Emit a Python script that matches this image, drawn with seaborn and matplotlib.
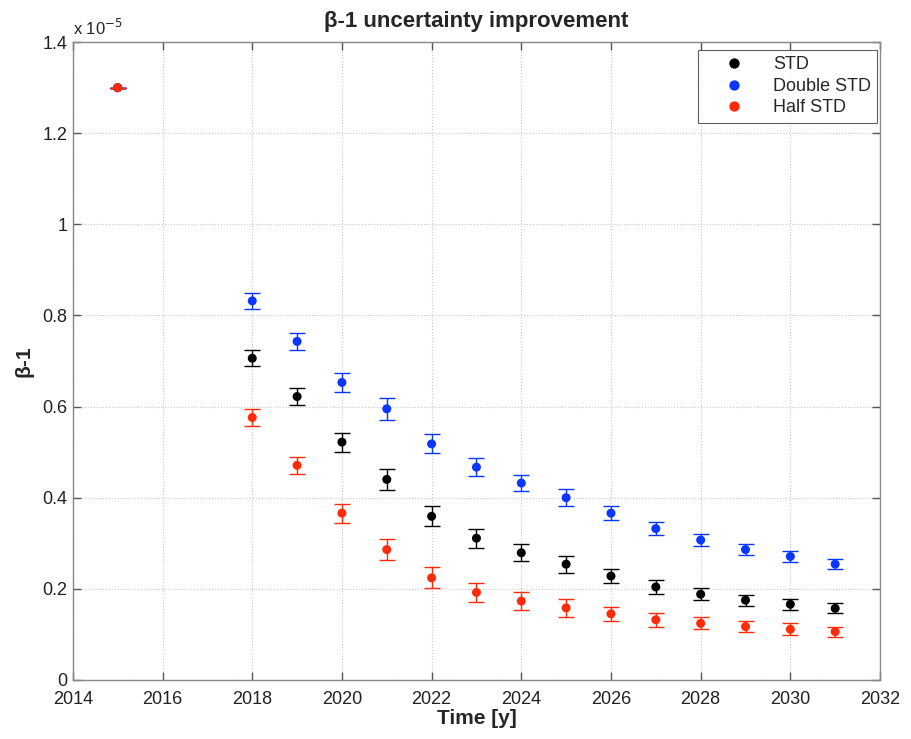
import numpy as np
import pandas as pd
import matplotlib
matplotlib.use("Agg")
import matplotlib.pyplot as plt
import seaborn as sns
from matplotlib.ticker import FuncFormatter

# Values in units of 1e-5
years = [2015, 2018, 2019, 2020, 2021, 2022, 2023, 2024, 2025, 2026, 2027, 2028, 2029, 2030, 2031]

std_vals = [1.30, 0.706, 0.622, 0.522, 0.440, 0.359, 0.311, 0.279, 0.254, 0.228, 0.204, 0.188, 0.175, 0.166, 0.157]
std_err = [0.0, 0.018, 0.018, 0.021, 0.023, 0.022, 0.021, 0.019, 0.019, 0.015, 0.015, 0.013, 0.012, 0.012, 0.011]

double_vals = [1.30, 0.832, 0.743, 0.653, 0.595, 0.518, 0.467, 0.432, 0.400, 0.366, 0.332, 0.307, 0.286, 0.271, 0.254]
double_err = [0.0, 0.018, 0.018, 0.021, 0.024, 0.021, 0.020, 0.018, 0.018, 0.015, 0.014, 0.013, 0.012, 0.012, 0.011]

half_vals = [1.30, 0.576, 0.471, 0.366, 0.286, 0.224, 0.192, 0.173, 0.158, 0.145, 0.132, 0.124, 0.117, 0.111, 0.106]
half_err = [0.0, 0.019, 0.019, 0.021, 0.023, 0.023, 0.021, 0.019, 0.019, 0.016, 0.015, 0.013, 0.012, 0.013, 0.011]

series_names = ["STD", "Double STD", "Half STD"]
colors = {"STD": "#000000", "Double STD": "#0a36ff", "Half STD": "#ff2a0a"}

frames = []
for name, vals, errs in zip(series_names, [std_vals, double_vals, half_vals], [std_err, double_err, half_err]):
    frames.append(pd.DataFrame({"year": years, "value": vals, "err": errs, "series": name}))
df = pd.concat(frames, ignore_index=True)

sns.set_style("ticks")
plt.rcParams['font.family'] = ['Liberation Sans', 'DejaVu Sans']

fig = plt.figure(figsize=(9.11, 7.39), dpi=100)
ax = fig.add_axes([0.080, 0.080, 0.886, 0.863])

# error bars
for name in series_names:
    sub = df[df['series'] == name]
    ax.errorbar(sub['year'], sub['value'], yerr=sub['err'], fmt='none',
                ecolor=colors[name], elinewidth=1.0, capsize=5.5, capthick=1.0, zorder=2)

sns.scatterplot(data=df, x='year', y='value', hue='series', palette=colors,
                hue_order=series_names, s=42, edgecolor='none', ax=ax, zorder=3)

ax.set_xlim(2014, 2032)
ax.set_ylim(0, 1.4)
ax.set_xticks(np.arange(2014, 2033, 2))
ax.set_yticks(np.arange(0, 1.41, 0.2))
ax.yaxis.set_major_formatter(FuncFormatter(lambda v, p: f"{v:g}"))

ax.grid(True, linestyle=':', color='#c8c8c8', linewidth=0.8)
ax.tick_params(direction='in', top=True, right=True, length=6, width=1, color='#555555',
               labelsize=13, labelcolor='#222222')
ax.tick_params(axis='x', pad=8)
ax.tick_params(axis='y', pad=4)
for sp in ax.spines.values():
    sp.set_color('#888888')
    sp.set_linewidth(1.0)

ax.set_title("β-1 uncertainty improvement", fontsize=16, fontweight='bold', pad=11)
ax.set_xlabel("Time [y]", fontsize=15, fontweight='bold', labelpad=1)
ax.set_ylabel("β-1", fontsize=15, fontweight='bold', labelpad=6)
ax.text(0.0, 1.006, "x 10$^{-5}$", transform=ax.transAxes, fontsize=12, ha='left', va='bottom')

leg = ax.legend(loc='upper right', bbox_to_anchor=(0.9963, 0.9875), borderaxespad=0,
                fontsize=13, frameon=True, fancybox=False, edgecolor='#333333',
                borderpad=0.35, labelspacing=0.25, handlelength=3.3, handletextpad=0.5,
                markerscale=1.15)
leg.get_frame().set_linewidth(0.8)

fig.savefig("out.png", dpi=100)
